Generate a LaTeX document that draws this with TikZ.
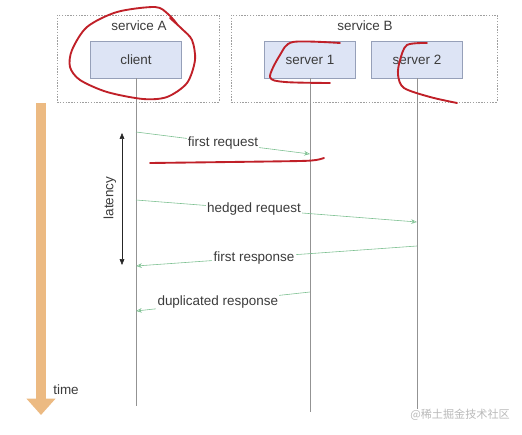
\documentclass[tikz,border=0pt]{standalone}
\usepackage{fontspec}
\setmainfont{Liberation Sans}
\newfontfamily\cjkfont{Noto Sans CJK SC}
\usetikzlibrary{arrows.meta,positioning}
\definecolor{boxblue}{RGB}{221,228,245}
\definecolor{boxline}{RGB}{150,160,185}
\definecolor{msggreen}{RGB}{125,192,145}
\definecolor{timeorange}{RGB}{236,186,130}
\definecolor{penred}{RGB}{192,32,40}
\definecolor{txtgray}{RGB}{60,60,60}
\tikzset{
  svcbox/.style={draw=gray!75, dash pattern=on 1.2pt off 1.2pt, line width=0.6pt},
  svclabel/.style={text=txtgray, font=\fontsize{11.5}{13}\selectfont},
  procbox/.style={rectangle, draw=boxline, fill=boxblue, minimum width=78pt, minimum height=31.5pt, inner sep=0pt, text=txtgray, font=\fontsize{11.5}{13}\selectfont},
  lifeline/.style={draw=gray!85, line width=0.7pt},
  msg/.style={-{Stealth[length=5pt,width=4pt,open]}, msggreen, line width=0.5pt},
  msglabel/.style={fill=white, inner sep=1pt, text=txtgray, font=\fontsize{11.5}{13}\selectfont},
  pen/.style={penred, line width=1.6pt, line cap=round, line join=round}
}

\begin{document}
\begin{tikzpicture}[x=0.854pt, y=-0.854pt]
\useasboundingbox (0,0) rectangle (522,434);
% services
\draw[svcbox] (57,15) rectangle (219,102);
\draw[svcbox] (231,15) rectangle (497,102);
\node[svclabel] (svcA) at (139,26) {service A};
\node[svclabel] (svcB) at (365,26) {service B};
\node[procbox] (client) at (136,59.5) {client};
\node[procbox] (srv1) at (310,59.5) {server 1};
\node[procbox] (srv2) at (417,59.5) {server 2};
% lifelines
\coordinate (clientend) at (136,406);
\coordinate (srv1end) at (310,412);
\coordinate (srv2end) at (417,409);
\draw[lifeline] (client.south) -- (clientend);
\draw[lifeline] (srv1.south) -- (srv1end);
\draw[lifeline] (srv2.south) -- (srv2end);
% messages
\coordinate (req1s) at (136,132);
\coordinate (req1e) at (310,154);
\coordinate (req2s) at (136,200);
\coordinate (req2e) at (417,222);
\coordinate (resp1s) at (417,246);
\coordinate (resp1e) at (136,266);
\coordinate (resp2s) at (310,292);
\coordinate (resp2e) at (136,311);
\draw[msg] (req1s) -- node[msglabel, pos=0.5] {first request} (req1e);
\draw[msg] (req2s) -- node[msglabel, pos=0.42] {hedged request} (req2e);
\draw[msg] (resp1s) -- node[msglabel, pos=0.58] {first response} (resp1e);
\draw[msg] (resp2s) -- node[msglabel, pos=0.53] {duplicated response} (resp2e);
% latency
\coordinate (lattop) at (122,133);
\coordinate (latbot) at (122,265);
\draw[{Triangle[length=5pt,width=4pt]}-{Triangle[length=5pt,width=4pt]}, black!85, line width=0.5pt] (lattop) -- (latbot);
\node[svclabel, rotate=90] (lat) at (110,198) {latency};
% time
\coordinate (timetop) at (41,103);
\coordinate (timebot) at (41,415);
\draw[timeorange, line width=9pt, -{Triangle[length=14pt,width=24pt]}] (timetop) -- (timebot);
\node[svclabel] (time) at (66,390) {time};
% pen marks
\draw[pen] plot[smooth] coordinates {(177,24) (168,14) (155,7) (117,12) (87,27) (72,50) (70,67) (80,80) (107,92) (143,99) (167,97) (187,83) (195,60) (192,40) (182,29) (170,18)};
\draw[pen] plot[smooth] coordinates {(340,43) (293,42) (280,55) (270,77) (285,82) (330,83)};
\draw[pen] plot[smooth] coordinates {(427,43) (407,45) (400,60) (398,75) (404,88) (430,97) (457,103)};
\draw[pen] plot[smooth] coordinates {(150,163) (230,162) (300,161) (316,160) (324,158)};
% watermark
\node[text=gray!55, font=\cjkfont\fontsize{9.5}{11}\selectfont] (wm) at (460,415) {@稀土掘金技术社区};
\end{tikzpicture}
\end{document}
